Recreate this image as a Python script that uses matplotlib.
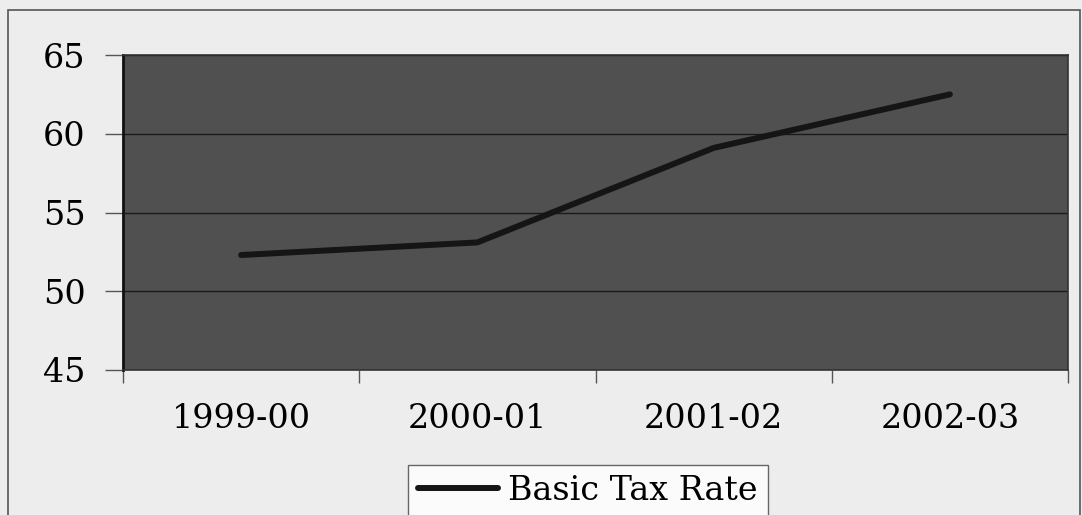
import matplotlib.pyplot as plt
import matplotlib.patches as mpatches
import numpy as np

years = ['1999-00', '2000-01', '2001-02', '2002-03']
basic_tax_rate = [52.3, 53.1, 59.1, 62.5]
y_ticks = [45, 50, 55, 60, 65]

plt.rcParams['font.family'] = ['DejaVu Serif']

fig = plt.figure(figsize=(10.82, 5.15), dpi=100, facecolor='#ededed')

# outer chart frame
fig.patches.append(mpatches.Rectangle((8 / 1082, -0.01), 1072 / 1082, 1 - 10 / 515 + 0.01,
                                      transform=fig.transFigure, fill=False,
                                      edgecolor='#555555', linewidth=1.2))

ax = fig.add_axes([123 / 1082, 145 / 515, 945 / 1082, 315 / 515])
ax.set_facecolor('#505050')

x = np.arange(len(years))
ax.plot(x, basic_tax_rate, color='#151515', linewidth=4.3,
        solid_capstyle='round', solid_joinstyle='round', label='Basic Tax Rate')

ax.set_xlim(-0.5, len(years) - 0.5)
ax.set_ylim(45, 65)
ax.set_yticks(y_ticks)
ax.yaxis.grid(True, color='#1a1a1a', linewidth=1.0)
ax.set_axisbelow(True)

ax.set_xticks(x)
ax.set_xticklabels(years)
ax.set_xticks(np.arange(len(years) + 1) - 0.5, minor=True)
ax.tick_params(axis='x', which='major', length=0, pad=24, labelsize=24)
ax.tick_params(axis='x', which='minor', length=9, width=1, color='#555555', direction='out')
ax.tick_params(axis='y', length=13, width=1, color='#555555', pad=14, labelsize=24)

for s in ['top', 'right', 'bottom']:
    ax.spines[s].set_color('#333333')
    ax.spines[s].set_linewidth(1.2)
ax.spines['left'].set_color('#111111')
ax.spines['left'].set_linewidth(2)

leg = fig.legend(loc='upper center', bbox_to_anchor=(588 / 1082, 1 - 465 / 515),
                 fontsize=24, frameon=True, fancybox=False, handlelength=2.4,
                 handletextpad=0.3, borderpad=0.3, borderaxespad=0)
leg.get_frame().set_edgecolor('#444444')
leg.get_frame().set_facecolor('white')
leg.get_frame().set_linewidth(1)

plt.savefig('out.png', dpi=100, facecolor=fig.get_facecolor())
